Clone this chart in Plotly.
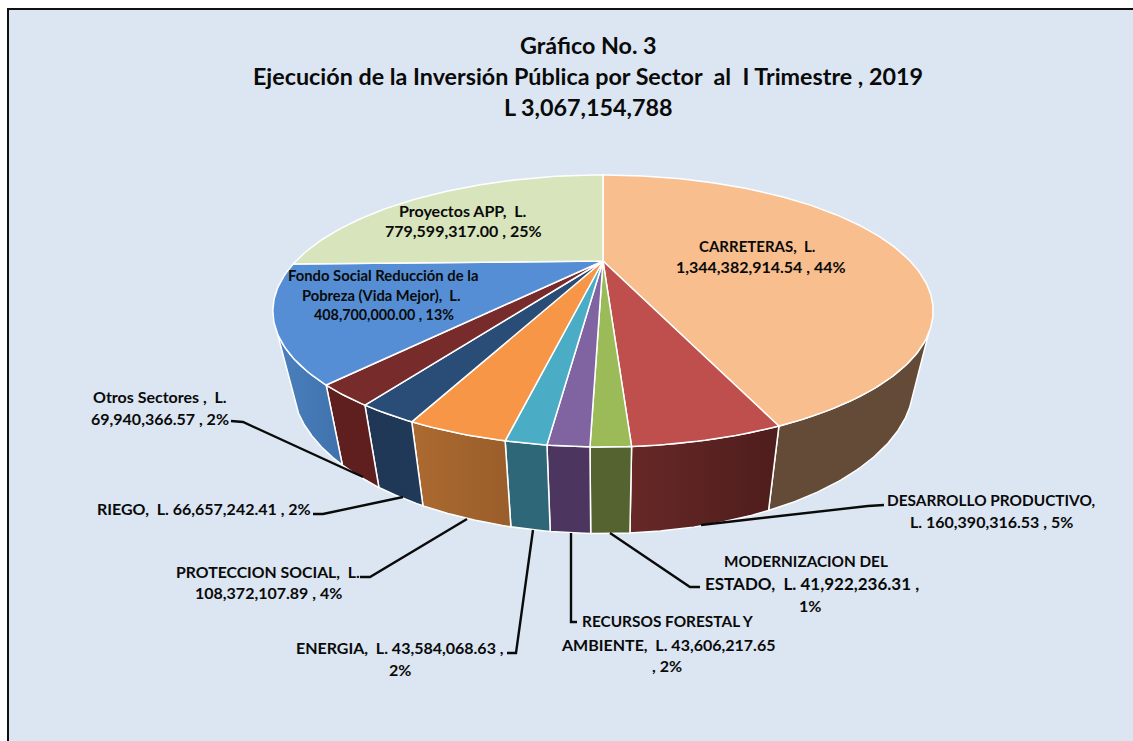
import numpy as np
import plotly.graph_objects as go

# ---- data (clockwise from 12 o'clock) ----
sectors = ["CARRETERAS", "DESARROLLO PRODUCTIVO", "MODERNIZACION DEL ESTADO",
           "RECURSOS FORESTAL Y AMBIENTE", "ENERGIA", "PROTECCION SOCIAL", "RIEGO",
           "Otros Sectores", "Fondo Social Reducción de la Pobreza (Vida Mejor)", "Proyectos APP"]
values = [1344382914.54, 160390316.53, 41922236.31, 43606217.65, 43584068.63,
          108372107.89, 66657242.41, 69940366.57, 408700000.00, 779599317.00]
top_colors = ["#F8BE8E", "#BF4F4D", "#9BBB59", "#8064A2", "#4BACC6",
              "#F79646", "#2A4D78", "#772B2A", "#558ED5", "#D7E4BC"]
wall_left = ["#634B38", "#672827", "#556330", "#4C3660", "#2E6878",
             "#AB6A30", "#1F3654", "#5E1F1E", "#4A80BE", "#D7E4BC"]
wall_right = ["#634B38", "#4E1D1C", "#556330", "#4C3660", "#2E6878",
              "#9A5E2B", "#213A5A", "#5E1F1E", "#3F72AC", "#D7E4BC"]

title_lines = ["Gráfico No. 3",
               "Ejecución de la Inversión Pública por Sector  al  I Trimestre , 2019",
               "L 3,067,154,788"]
title_y = [45, 76, 107]

# (text, x, y, font size)
labels = [
    ("CARRETERAS,  L.", 757, 246, 15), ("1,344,382,914.54 , 44%", 761, 266, 16),
    ("Proyectos APP,  L.", 463, 210, 16), ("779,599,317.00 , 25%", 463, 230, 16),
    ("Fondo Social Reducción de la", 383, 275, 14.8), ("Pobreza (Vida Mejor),  L.", 381, 295, 14.7),
    ("408,700,000.00 , 13%", 384, 314, 14.3),
    ("Otros Sectores ,  L.", 160, 396, 16), ("69,940,366.57 , 2%", 160, 418, 16),
    ("RIEGO,  L. 66,657,242.41 , 2%", 204, 508, 16),
    ("PROTECCION SOCIAL,  L.", 268, 571, 15.8), ("108,372,107.89 , 4%", 268, 592, 16),
    ("ENERGIA,  L. 43,584,068.63 ,", 400, 647, 16), ("2%", 400, 669, 16),
    ("RECURSOS FORESTAL Y", 668, 621, 15.4), ("AMBIENTE,  L. 43,606,217.65", 668, 644, 16),
    (", 2%", 667, 665, 16),
    ("MODERNIZACION DEL", 806, 561, 15.3), ("ESTADO,  L. 41,922,236.31 ,", 812, 583, 17),
    ("1%", 810, 605, 16),
    ("DESARROLLO PRODUCTIVO,", 991, 500, 15.4), ("L. 160,390,316.53 , 5%", 991, 521, 16),
]

leaders = [
    ([231, 243, 363], [421, 422, 477]),
    ([313, 323, 403], [514, 514, 497]),
    ([360, 370, 467], [577, 577, 519]),
    ([507, 516, 533], [653, 653, 530]),
    ([577, 571, 571], [622, 622, 533]),
    ([700, 690, 610], [587, 587, 533]),
    ([884, 868, 701], [505, 506, 525]),
]

# ---- projection of the tilted pie onto the page ----
CX = 603
K = 0.3676
TOP = dict(a=307.0, b=117.6, y0=261.0)
BOT = dict(a=289.0, b=130.0, y0=328.0)


def project(theta, p):
    u, v = np.sin(theta), -np.cos(theta)
    w = 1 - K * v
    return CX + p["a"] * u / w, p["y0"] + p["b"] * v / w


fractions = np.array(values) / sum(values)
edges = np.concatenate([[0], np.cumsum(fractions)]) * 2 * np.pi
VIS0, VIS1 = np.radians(120), np.radians(240)

fig = go.Figure()

# side walls
for i in range(len(values)):
    a0, a1 = max(edges[i], VIS0), min(edges[i + 1], VIS1)
    if a1 <= a0:
        continue
    th = np.linspace(a0, a1, 80)
    xt, yt = project(th, TOP)
    xb, yb = project(th[::-1], BOT)
    fig.add_trace(go.Scatter(
        x=np.concatenate([xt, xb, xt[:1]]), y=np.concatenate([yt, yb, yt[:1]]),
        mode="lines", fill="toself",
        fillgradient=dict(type="horizontal", colorscale=[[0, wall_left[i]], [1, wall_right[i]]]),
        line=dict(color="white", width=1.5), hoverinfo="skip", showlegend=False))

# top faces
for i, name in enumerate(sectors):
    th = np.linspace(edges[i], edges[i + 1], max(int(fractions[i] * 400), 12))
    xt, yt = project(th, TOP)
    fig.add_trace(go.Scatter(
        x=np.concatenate([[CX], xt, [CX]]), y=np.concatenate([[TOP["y0"]], yt, [TOP["y0"]]]),
        mode="lines", fill="toself", fillcolor=top_colors[i],
        line=dict(color="white", width=1.5), name=name, showlegend=False,
        hovertemplate=f"{name}: {values[i]:,.2f}<extra></extra>"))

# leader lines
for lx, ly in leaders:
    fig.add_trace(go.Scatter(x=lx, y=ly, mode="lines", line=dict(color="#0a0a0a", width=2.4),
                             hoverinfo="skip", showlegend=False))

annotations = []
for t, y in zip(title_lines, title_y):
    annotations.append(dict(x=588, y=y, text=f"<b>{t}</b>", showarrow=False, xref="x", yref="y",
                            xanchor="center", yanchor="middle",
                            font=dict(family="Lato", size=23.3, color="#0a0a0a")))
for t, x, y, s in labels:
    annotations.append(dict(x=x, y=y, text=f"<b>{t}</b>", showarrow=False, xref="x", yref="y",
                            xanchor="center", yanchor="middle",
                            font=dict(family="Lato", size=s, color="#0a0a0a")))

fig.update_layout(
    width=1133, height=741, margin=dict(l=0, r=0, t=0, b=0),
    paper_bgcolor="white", plot_bgcolor="white", showlegend=False,
    xaxis=dict(range=[0, 1133], visible=False, fixedrange=True),
    yaxis=dict(range=[741, 0], visible=False, fixedrange=True),
    shapes=[dict(type="rect", xref="x", yref="y", x0=8, y0=9, x1=1140, y1=750,
                 fillcolor="#DCE6F2", line=dict(color="#111111", width=2), layer="below")],
    annotations=annotations,
)

fig.write_html("out.html", config={"displayModeBar": False},
               post_script="document.body.style.margin='0';document.body.style.overflow='hidden';")
